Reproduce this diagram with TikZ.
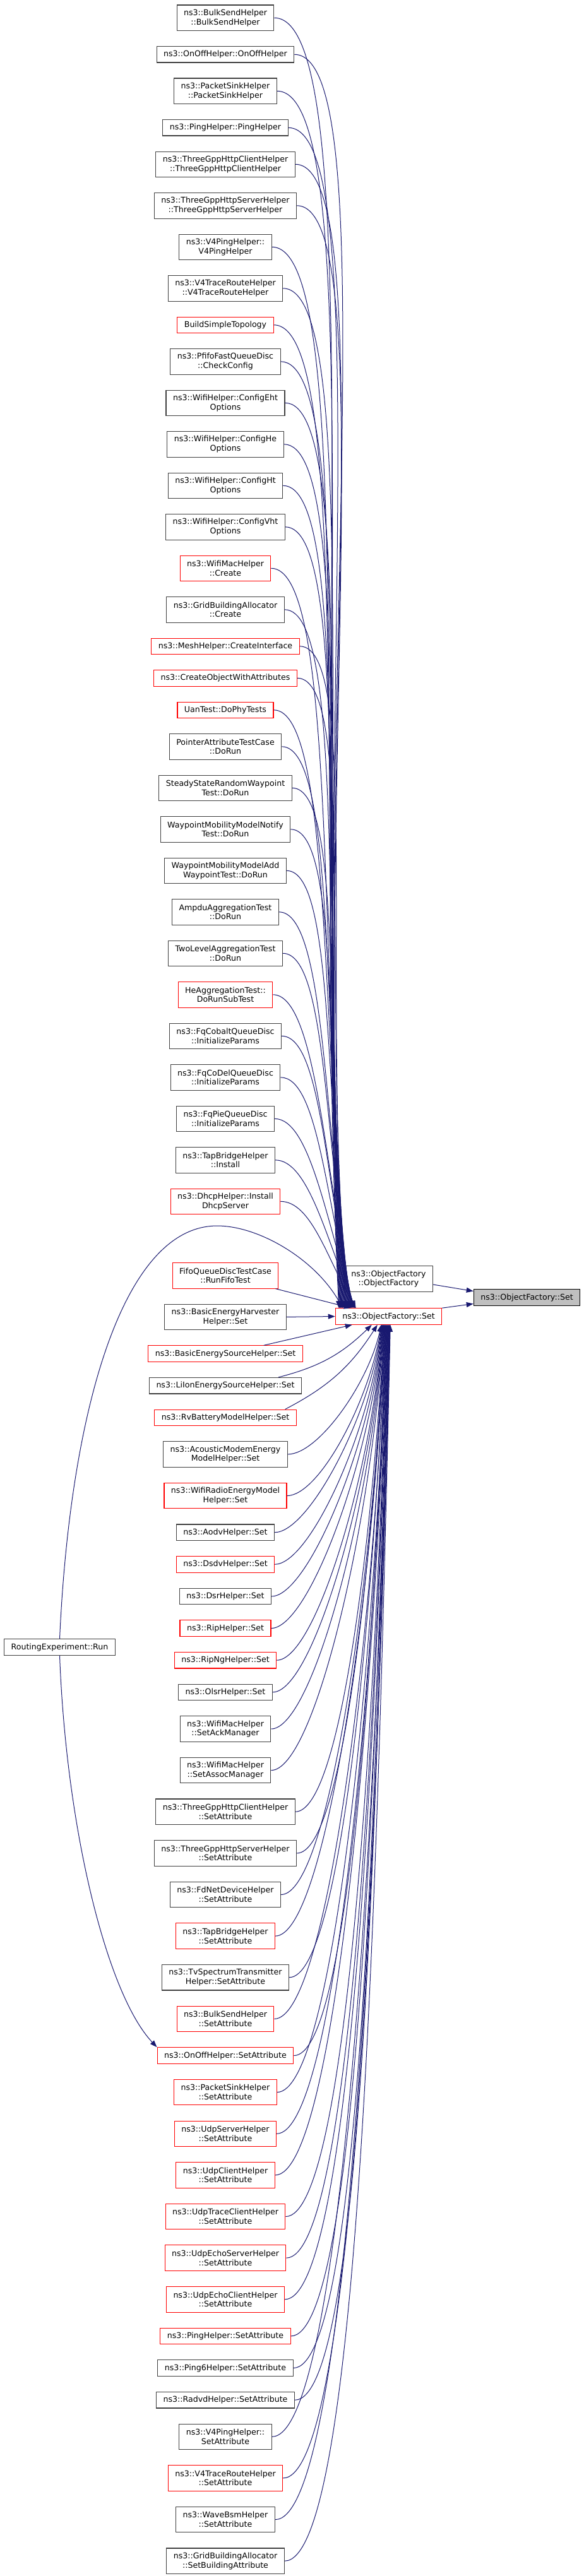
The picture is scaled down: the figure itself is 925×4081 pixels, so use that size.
\documentclass[tikz,border=0pt]{standalone}
\usepackage{xcolor}
\usepackage{fontspec}
\setmainfont{DejaVu Sans}
\usepackage{tikz}
\usetikzlibrary{arrows}
\usetikzlibrary{arrows.meta,calc}

\definecolor{edgeblue}{HTML}{191970}
\definecolor{framegray}{HTML}{404040}
\definecolor{fillgray}{HTML}{BFBFBF}
\definecolor{truncred}{HTML}{FF0000}

\tikzset{
  fn/.style={draw=framegray, line width=1.1pt, fill=white, anchor=north,
    minimum height=25.5pt, inner xsep=11pt, inner ysep=2pt, align=center,
    font=\fontsize{12.6}{14.7}\selectfont},
  fntwo/.style={fn, minimum height=40.5pt},
  cut/.style={draw=truncred},
  call/.style={edgeblue, line width=1pt, ->, >={Triangle[length=11pt,width=8pt]}}
}

\begin{document}
\begin{tikzpicture}[x=1pt, y=-1pt]
              \useasboundingbox (0,0) rectangle (925,4081);

              \node[fn, anchor=center, fill=fillgray, draw=black] (gset) at (834.5,2055.5) {ns3::ObjectFactory::Set};
              \node[fntwo, anchor=center] (octor) at (615.5,2026) {ns3::ObjectFactory\\::ObjectFactory};
              \node[fn, cut, anchor=center] (fset) at (615.5,2085.5) {ns3::ObjectFactory::Set};
              \node[fn, anchor=center] (run) at (94.5,2609.5) {RoutingExperiment::Run};

              \node[fntwo] (n1) at (357,7.5) {ns3::BulkSendHelper\\::BulkSendHelper};
              \node[fn] (n2) at (357,73) {ns3::OnOffHelper::OnOffHelper};
              \node[fntwo] (n3) at (357,123.5) {ns3::PacketSinkHelper\\::PacketSinkHelper};
              \node[fn] (n4) at (357,189) {ns3::PingHelper::PingHelper};
              \node[fntwo] (n5) at (357,239.5) {ns3::ThreeGppHttpClientHelper\\::ThreeGppHttpClientHelper};
              \node[fntwo] (n6) at (357,305) {ns3::ThreeGppHttpServerHelper\\::ThreeGppHttpServerHelper};
              \node[fntwo] (n7) at (357,370.5) {ns3::V4PingHelper::\\V4PingHelper};
              \node[fntwo] (n8) at (357,436) {ns3::V4TraceRouteHelper\\::V4TraceRouteHelper};
              \node[fn, cut] (n9) at (357,501.5) {BuildSimpleTopology};
              \node[fntwo] (n10) at (357,552) {ns3::PfifoFastQueueDisc\\::CheckConfig};
              \node[fntwo] (n11) at (357,617.5) {ns3::WifiHelper::ConfigEht\\Options};
              \node[fntwo] (n12) at (357,683) {ns3::WifiHelper::ConfigHe\\Options};
              \node[fntwo] (n13) at (357,748.5) {ns3::WifiHelper::ConfigHt\\Options};
              \node[fntwo] (n14) at (357,814) {ns3::WifiHelper::ConfigVht\\Options};
              \node[fntwo, cut] (n15) at (357,879.5) {ns3::WifiMacHelper\\::Create};
              \node[fntwo] (n16) at (357,945) {ns3::GridBuildingAllocator\\::Create};
              \node[fn, cut] (n17) at (357,1010.5) {ns3::MeshHelper::CreateInterface};
              \node[fn, cut] (n18) at (357,1061) {ns3::CreateObjectWithAttributes};
              \node[fn, cut] (n19) at (357,1111.5) {UanTest::DoPhyTests};
              \node[fntwo] (n20) at (357,1162) {PointerAttributeTestCase\\::DoRun};
              \node[fntwo] (n21) at (357,1227.5) {SteadyStateRandomWaypoint\\Test::DoRun};
              \node[fntwo] (n22) at (357,1293) {WaypointMobilityModelNotify\\Test::DoRun};
              \node[fntwo] (n23) at (357,1358.5) {WaypointMobilityModelAdd\\WaypointTest::DoRun};
              \node[fntwo] (n24) at (357,1424) {AmpduAggregationTest\\::DoRun};
              \node[fntwo] (n25) at (357,1489.5) {TwoLevelAggregationTest\\::DoRun};
              \node[fntwo, cut] (n26) at (357,1555) {HeAggregationTest::\\DoRunSubTest};
              \node[fntwo] (n27) at (357,1620.5) {ns3::FqCobaltQueueDisc\\::InitializeParams};
              \node[fntwo] (n28) at (357,1686) {ns3::FqCoDelQueueDisc\\::InitializeParams};
              \node[fntwo] (n29) at (357,1751.5) {ns3::FqPieQueueDisc\\::InitializeParams};
              \node[fntwo] (n30) at (357,1817) {ns3::TapBridgeHelper\\::Install};
              \node[fntwo, cut] (n31) at (357,1882.5) {ns3::DhcpHelper::Install\\DhcpServer};
              \node[fntwo, cut] (n32) at (357,2000) {FifoQueueDiscTestCase\\::RunFifoTest};
              \node[fntwo] (n33) at (357,2065.6) {ns3::BasicEnergyHarvester\\Helper::Set};
              \node[fn, cut] (n34) at (357,2131.3) {ns3::BasicEnergySourceHelper::Set};
              \node[fn] (n35) at (357,2181.9) {ns3::LiIonEnergySourceHelper::Set};
              \node[fn, cut] (n36) at (357,2232.5) {ns3::RvBatteryModelHelper::Set};
              \node[fntwo] (n37) at (357,2283.1) {ns3::AcousticModemEnergy\\ModelHelper::Set};
              \node[fntwo, cut] (n38) at (357,2348.8) {ns3::WifiRadioEnergyModel\\Helper::Set};
              \node[fn] (n39) at (357,2414.4) {ns3::AodvHelper::Set};
              \node[fn, cut] (n40) at (357,2465) {ns3::DsdvHelper::Set};
              \node[fn] (n41) at (357,2515.7) {ns3::DsrHelper::Set};
              \node[fn, cut] (n42) at (357,2566.3) {ns3::RipHelper::Set};
              \node[fn, cut] (n43) at (357,2616.9) {ns3::RipNgHelper::Set};
              \node[fn] (n44) at (357,2667.5) {ns3::OlsrHelper::Set};
              \node[fntwo] (n45) at (357,2718.2) {ns3::WifiMacHelper\\::SetAckManager};
              \node[fntwo] (n46) at (357,2783.8) {ns3::WifiMacHelper\\::SetAssocManager};
              \node[fntwo] (n47) at (357,2849.4) {ns3::ThreeGppHttpClientHelper\\::SetAttribute};
              \node[fntwo] (n48) at (357,2915.1) {ns3::ThreeGppHttpServerHelper\\::SetAttribute};
              \node[fntwo] (n49) at (357,2980.7) {ns3::FdNetDeviceHelper\\::SetAttribute};
              \node[fntwo, cut] (n50) at (357,3046.3) {ns3::TapBridgeHelper\\::SetAttribute};
              \node[fntwo] (n51) at (357,3111.9) {ns3::TvSpectrumTransmitter\\Helper::SetAttribute};
              \node[fntwo, cut] (n52) at (357,3177.6) {ns3::BulkSendHelper\\::SetAttribute};
              \node[fn, cut] (n53) at (357,3243.2) {ns3::OnOffHelper::SetAttribute};
              \node[fntwo, cut] (n54) at (357,3293.8) {ns3::PacketSinkHelper\\::SetAttribute};
              \node[fntwo, cut] (n55) at (357,3359.5) {ns3::UdpServerHelper\\::SetAttribute};
              \node[fntwo, cut] (n56) at (357,3425.1) {ns3::UdpClientHelper\\::SetAttribute};
              \node[fntwo, cut] (n57) at (357,3490.7) {ns3::UdpTraceClientHelper\\::SetAttribute};
              \node[fntwo, cut] (n58) at (357,3556.3) {ns3::UdpEchoServerHelper\\::SetAttribute};
              \node[fntwo, cut] (n59) at (357,3622) {ns3::UdpEchoClientHelper\\::SetAttribute};
              \node[fn, cut] (n60) at (357,3687.6) {ns3::PingHelper::SetAttribute};
              \node[fn] (n61) at (357,3738.2) {ns3::Ping6Helper::SetAttribute};
              \node[fn] (n62) at (357,3788.9) {ns3::RadvdHelper::SetAttribute};
              \node[fntwo] (n63) at (357,3839.5) {ns3::V4PingHelper::\\SetAttribute};
              \node[fntwo, cut] (n64) at (357,3905.1) {ns3::V4TraceRouteHelper\\::SetAttribute};
              \node[fntwo] (n65) at (357,3970.8) {ns3::WaveBsmHelper\\::SetAttribute};
              \node[fntwo] (n66) at (357,4036.4) {ns3::GridBuildingAllocator\\::SetBuildingAttribute};

              \draw[call] ([yshift=-9pt]octor.east) -- ([yshift=10pt]gset.west);
              \draw[call] (fset.north east) -- ([yshift=-10pt]gset.west);

              \foreach \i in {1,...,31}
                \draw[call] let \p1=(n\i.east), \p2=([xshift={6+0.9*(\i-1)}]fset.north west),
                  \n1={40+0.055*(\y1-\y2)}, \n2={0.45*(\y1-\y2)} in
                  (\p1) .. controls (\x1+\n1*1pt,\y1) and (\x2-45pt,\y2+\n2*1pt) .. (\p2);

              \draw[call] ([xshift=-5pt]n32.south east) -- ([xshift=25pt]fset.north west);
              \draw[call] (n33.east) -- (fset.west);
              \draw[call] ([xshift=-62pt]n34.north east) -- ([xshift=27pt]fset.south west);
              \draw[call] ([xshift=-37pt]n35.north east) to[bend right=15] ([xshift=58pt]fset.south west);
              \draw[call] ([xshift=-18pt]n36.north east) to[bend right=15] ([xshift=67pt]fset.south west);

              \foreach \i in {37,...,66}
                \draw[call] let \p1=(n\i.east), \p2=([xshift={73+0.5*(\i-37)}]fset.south west),
                  \n1={40+0.04*(\y2-\y1)}, \n2={0.45*(\y2-\y1)} in
                  (\p1) .. controls (\x1+\n1*1pt,\y1) and (\x2-20pt,\y2-\n2*1pt) .. (\p2);

              \coordinate (crest) at (344,1942);
              \draw[call] (run.north) .. controls (110,2250) and (190,1942) .. (crest)
                .. controls (410,1942) and (500,1995) .. ([xshift=12pt]fset.north west);
              \draw[call] (run.south) .. controls (105,2900) and (170,3160) .. (n53.north west);
            \end{tikzpicture}
\end{document}
